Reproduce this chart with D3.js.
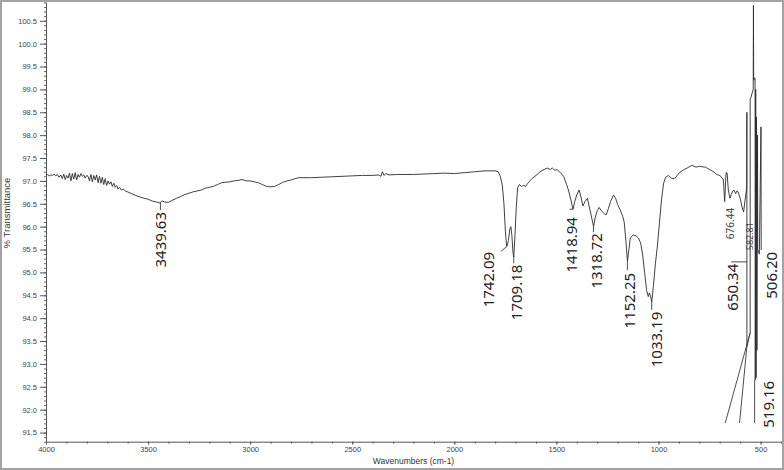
<!DOCTYPE html>
<html>
<head>
<meta charset="utf-8">
<script src="https://cdn.jsdelivr.net/npm/d3@7"></script>
<style>
  body { margin: 0; background: #fff; }
  svg { display: block; }
</style>
</head>
<body>
<div id="chart"></div>
<script>
// IR spectrum, values

// wavenumber (cm-1) of each point, in drawing order
let wavenumbers = [
    4000, 3992, 3984, 3976, 3968, 3960, 3952, 3944, 3936, 3928, 3920,
    3913, 3906, 3899, 3892, 3885, 3878, 3871, 3864, 3857, 3850,
    3843, 3836, 3829, 3822, 3815, 3808, 3801, 3794, 3787, 3780,
    3773, 3766, 3759, 3752, 3745, 3738, 3731, 3724, 3717, 3710,
    3703, 3696, 3689, 3682, 3675, 3668, 3661, 3654, 3647, 3640,
    3630, 3620, 3610, 3600, 3580, 3560, 3540, 3520, 3500, 3480, 3460,
    3445, 3440, 3430, 3420, 3400, 3380, 3360, 3340, 3320, 3300, 3280, 3260, 3240, 3220, 3200, 3180,
    3160, 3140, 3120, 3100, 3080, 3060, 3040, 3020, 3000, 2980, 2960, 2940, 2920, 2900, 2880, 2860,
    2840, 2820, 2800, 2780, 2760, 2700, 2650, 2600, 2550, 2500, 2450, 2400, 2370, 2360, 2352, 2345,
    2335, 2320, 2280, 2200, 2150, 2100, 2050, 2000, 1950, 1900, 1850, 1800, 1785, 1775, 1765, 1757,
    1750, 1745, 1742, 1735, 1728, 1723, 1718, 1713, 1709, 1703, 1697, 1690, 1682, 1672, 1660, 1650,
    1640, 1620, 1600, 1580, 1560, 1545, 1530, 1520, 1510, 1495, 1480, 1465, 1450, 1440, 1430, 1419,
    1410, 1400, 1389, 1380, 1370, 1360, 1348, 1340, 1330, 1318, 1310, 1300, 1291, 1280, 1265, 1256,
    1245, 1235, 1220, 1210, 1200, 1188, 1175, 1168, 1160, 1152, 1145, 1138, 1125, 1110, 1098, 1088,
    1078, 1068, 1058, 1050, 1045, 1040, 1033, 1025, 1015, 1005, 995, 985, 975, 965, 951, 935,
    918, 900, 878, 860, 837, 815, 800, 788, 770, 747, 730, 715, 706, 695, 682, 676,
    669, 664, 658, 650, 644, 636, 630, 622, 616, 610, 600, 592, 583, 576, 568, 567,
    567, 551, 551, 549, 536, 535, 534, 530, 527, 526, 524, 522, 520, 518, 515, 514,
    506, 498, 497
];

// % transmittance of each point
let transmittance = [
    97.12, 97.14, 97.11, 97.13, 97.12, 97.15, 97.11, 97.14, 97.08, 97.13, 97.05,
    97.15, 97.03, 97.12, 97.06, 97.17, 97.00, 97.16, 97.04, 97.18, 97.02,
    97.14, 97.08, 97.16, 97.10, 97.13, 97.06, 97.12, 97.10, 97.00, 97.14,
    96.98, 97.12, 97.02, 97.13, 96.96, 97.10, 96.95, 97.08, 96.92, 97.05,
    96.90, 97.00, 96.93, 96.98, 96.88, 96.95, 96.86, 96.90, 96.82, 96.86,
    96.80, 96.82, 96.77, 96.76, 96.72, 96.68, 96.65, 96.62, 96.60, 96.56, 96.54,
    96.52, 96.53, 96.56, 96.54, 96.53, 96.58, 96.62, 96.66, 96.70, 96.73, 96.76, 96.78, 96.80, 96.84, 96.86, 96.88,
    96.92, 96.96, 96.97, 96.98, 97.00, 97.01, 97.03, 97.00, 97.00, 96.98, 96.96, 96.92, 96.88, 96.87, 96.88, 96.92,
    96.97, 97.00, 97.02, 97.05, 97.07, 97.07, 97.08, 97.09, 97.10, 97.11, 97.12, 97.12, 97.13, 97.10, 97.20, 97.12,
    97.16, 97.13, 97.14, 97.14, 97.15, 97.16, 97.17, 97.16, 97.18, 97.20, 97.22, 97.22, 97.20, 97.10, 96.90, 96.50,
    95.90, 95.62, 95.57, 95.70, 95.95, 96.00, 95.80, 95.45, 95.33, 95.80, 96.40, 96.85, 96.92, 96.88, 96.90, 96.88,
    96.95, 97.05, 97.12, 97.20, 97.25, 97.28, 97.25, 97.28, 97.24, 97.24, 97.18, 97.10, 96.92, 96.78, 96.60, 96.38,
    96.55, 96.70, 96.80, 96.65, 96.45, 96.55, 96.62, 96.45, 96.25, 96.00, 96.20, 96.35, 96.42, 96.35, 96.28, 96.26,
    96.40, 96.55, 96.69, 96.62, 96.48, 96.37, 96.22, 96.10, 95.70, 95.24, 95.50, 95.75, 95.82, 95.80, 95.75, 95.65,
    95.40, 95.00, 94.60, 94.47, 94.55, 94.50, 94.36, 94.70, 95.20, 95.60, 96.10, 96.60, 96.95, 97.08, 97.12, 97.05,
    97.06, 97.17, 97.24, 97.28, 97.34, 97.30, 97.32, 97.31, 97.30, 97.24, 97.20, 97.14, 97.13, 97.10, 97.02, 96.55,
    97.18, 97.17, 96.80, 96.62, 96.70, 96.78, 96.80, 96.72, 96.78, 96.76, 96.62, 96.45, 96.32, 96.58, 96.84, 98.50,
    93.38, 93.68, 98.80, 98.80, 99.00, 100.84, 99.20, 99.25, 99.25, 92.65, 99.00, 92.70, 98.40, 93.30, 98.00, 95.50,
    95.40, 98.18, 95.49
];

// peak labels: text, wavenumber where the label sits, transmittance at the label's top end
let peakText = ['3439.63', '1742.09', '1709.18', '1418.94', '1318.72', '1152.25', '1033.19',
    '650.34', '676.44', '582.81', '506.20', '519.16'];
let peakLabelWn = [3439.63, 1834.8, 1697.8, 1428.5, 1306.1, 1144.6, 1012.4, 640.4, 650.2, 554.7, 449.5, 464.2];
let peakLabelTop = [96.32, 95.45, 95.17, 96.21, 95.86, 94.99, 94.14, 95.19, 96.41, 96.10, 95.45, 92.63];
let peakSmall = [false, false, false, false, false, false, false, false, true, true, false, false];

// leader lines from peaks to labels [wavenumber, transmittance]
let leaders = [
    [[3439.63, 96.53], [3439.63, 96.36]],
    [[1742, 95.57], [1772, 95.46]],
    [[1709, 95.33], [1709, 95.20]],
    [[1419, 96.38], [1436, 96.38]],
    [[1318.72, 96.00], [1318.72, 95.88]],
    [[1152.25, 95.24], [1152.25, 95.05]],
    [[1033.19, 94.36], [1033.19, 94.18]],
    [[644, 95.23], [566, 95.23]],
    [[529, 92.65], [529, 91.71]],
    [[551, 93.68], [673, 91.71]],
    [[567, 93.38], [603, 91.71]]
];

// axis ticks
let xTicks = [4000, 3500, 3000, 2500, 2000, 1500, 1000, 500];
let xMinor = d3.range(4000, 399, -100);
let yTicks = [91.5, 92.0, 92.5, 93.0, 93.5, 94.0, 94.5, 95.0, 95.5, 96.0, 96.5, 97.0, 97.5, 98.0, 98.5, 99.0, 99.5, 100.0, 100.5];
let yMinor = d3.range(913, 1010).map(d => d / 10);

let svgWidth = 784;
let svgHeight = 470;

let svg = d3.select('#chart')
    .append('svg')
    .attr('width', svgWidth)
    .attr('height', svgHeight);

// outer grey frame
svg.append('rect')
    .attr('x', 1)
    .attr('y', 1)
    .attr('width', svgWidth - 2)
    .attr('height', svgHeight - 2)
    .attr('fill', '#fff')
    .attr('stroke', '#a3a3a3')
    .attr('stroke-width', 2);

let xScale = d3.scaleLinear()
    .domain([4000, 400])
    .range([46, 781]);
let yScale = d3.scaleLinear()
    .domain([91.3, 100.91])
    .range([441.7, 2]);

let tickFont = 'Liberation Sans, Arial, sans-serif';

// minor ticks first
svg.append('g')
    .attr('transform', `translate(0, ${yScale(91.3)})`)
    .call(d3.axisBottom(xScale).tickValues(xMinor).tickSize(2).tickFormat(''))
    .call(g => g.select('.domain').remove())
    .selectAll('line').attr('stroke', '#666');
svg.append('g')
    .attr('transform', `translate(${xScale(4000)}, 0)`)
    .call(d3.axisLeft(yScale).tickValues(yMinor).tickSize(2).tickFormat(''))
    .call(g => g.select('.domain').remove())
    .selectAll('line').attr('stroke', '#666');

// main axes
let xAxis = svg.append('g')
    .attr('transform', `translate(0, ${yScale(91.3)})`)
    .call(d3.axisBottom(xScale).tickValues(xTicks).tickSize(3).tickPadding(2).tickSizeOuter(0).tickFormat(d3.format('d')));
let yAxis = svg.append('g')
    .attr('transform', `translate(${xScale(4000)}, 0)`)
    .call(d3.axisLeft(yScale).tickValues(yTicks).tickSize(6).tickPadding(3).tickSizeOuter(0).tickFormat(d3.format('.1f')));

[xAxis, yAxis].forEach(function(ax) {
    ax.select('.domain').attr('stroke', '#555');
    ax.selectAll('line').attr('stroke', '#555');
    ax.selectAll('text')
        .attr('fill', '#444')
        .style('font-family', tickFont)
        .style('font-size', '7.5px');
});

// axis titles
svg.append('text')
    .attr('x', (xScale.range()[0] + xScale.range()[1]) / 2)
    .attr('y', 464)
    .attr('text-anchor', 'middle')
    .attr('fill', '#333')
    .style('font-family', tickFont)
    .style('font-size', '8.5px')
    .text('Wavenumbers (cm-1)');
svg.append('text')
    .attr('transform', 'translate(10, 213) rotate(-90)')
    .attr('text-anchor', 'middle')
    .attr('fill', '#333')
    .style('font-family', tickFont)
    .style('font-size', '9.5px')
    .text('% Transmittance');

// spectrum
let points = wavenumbers.map((w, i) => [w, transmittance[i]]);
let line = d3.line()
    .x(d => xScale(d[0]))
    .y(d => yScale(d[1]));

svg.append('path')
    .datum(points)
    .attr('d', line)
    .attr('fill', 'none')
    .attr('stroke', '#2b2b2b')
    .attr('stroke-width', 0.9);

// leader lines
svg.selectAll('.leader')
    .data(leaders)
    .enter()
    .append('path')
    .classed('leader', true)
    .attr('d', line)
    .attr('fill', 'none')
    .attr('stroke', '#3a3a3a')
    .attr('stroke-width', 0.9);

// peak labels
svg.selectAll('.peak')
    .data(peakText)
    .enter()
    .append('text')
    .classed('peak', true)
    .attr('transform', (d, i) => `translate(${xScale(peakLabelWn[i])}, ${yScale(peakLabelTop[i])}) rotate(-90)`)
    .attr('text-anchor', 'end')
    .attr('dominant-baseline', 'central')
    .attr('fill', (d, i) => peakSmall[i] ? '#444' : '#222')
    .style('font-family', 'Noto Sans, Open Sans, sans-serif')
    .style('font-size', (d, i) => peakSmall[i] ? (i == 8 ? '10px' : '9px') : '15px')
    .text(d => d);
</script>
</body>
</html>
